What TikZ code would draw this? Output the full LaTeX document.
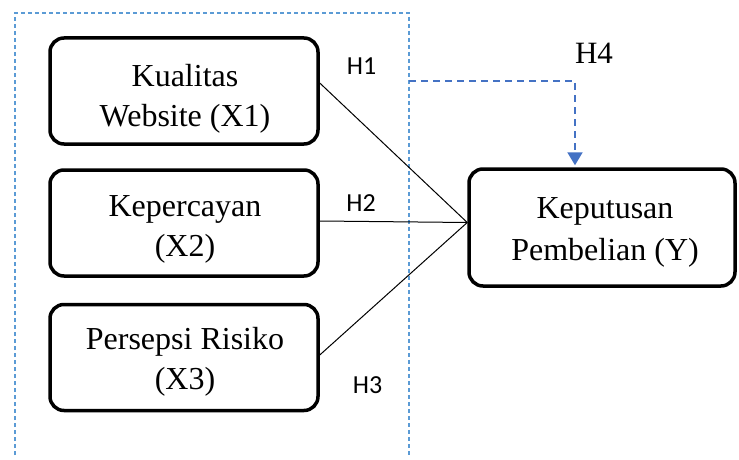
\documentclass[tikz,border=0pt]{standalone}
\usepackage{fontspec}
\setmainfont{Liberation Serif}
\newfontfamily\calibri{Carlito}
\usetikzlibrary{arrows.meta,positioning}

\definecolor{garisbiru}{RGB}{91,155,213}
\definecolor{panahbiru}{RGB}{68,114,196}

\tikzset{
    variabel/.style={draw, line width=3.5pt, rounded corners=14pt,
        minimum width=268pt, minimum height=106pt, inner sep=0pt},
    teks/.style={align=center, inner sep=0pt,
        font=\fontsize{32}{40}\selectfont},
    hipo/.style={inner sep=0pt, font=\calibri\fontsize{26}{30}\selectfont},
    jalur/.style={line width=1pt},
    kelompok/.style={garisbiru, line width=1.2pt, dash pattern=on 4pt off 3pt},
    moderasi/.style={panahbiru, line width=2pt, dash pattern=on 7pt off 5pt,
        -{Triangle[width=15pt,length=13pt]}, shorten >=2pt}
}

\begin{document}
\begin{tikzpicture}[x=1pt, y=-1pt]
    \useasboundingbox (0,0) rectangle (739,460);

    % Kotak putus-putus (X1, X2, X3)
    \draw[kelompok] (15,455) -- (15,13) -- (409,13) -- (409,455);

    % Variabel bebas
    \node[variabel] (x1) at (184,91) {};
    \node[variabel] (x2) at (184,223) {};
    \node[variabel] (x3) at (184,357.5) {};
    \node[teks] (t1) at (185,99.2) {Kualitas\\Website (X1)};
    \node[teks] (t2) at (185,229.4) {Kepercayan\\(X2)};
    \node[teks] (t3) at (185,361.5) {Persepsi Risiko\\(X3)};

    % Variabel terikat
    \node[variabel, minimum width=266pt, minimum height=117pt] (y) at (602,227.5) {};
    \node[teks, font=\fontsize{32}{42}\selectfont] (ty) at (605,232) {Keputusan\\Pembelian (Y)};

    % Jalur hipotesis
    \coordinate (masuk) at ([yshift=5pt]y.west);
    \draw[jalur] ([yshift=8pt]x1.east) -- (masuk);
    \draw[jalur] ([yshift=2pt]x2.east) -- (masuk);
    \draw[jalur] ([yshift=2.5pt]x3.east) -- (masuk);

    \node[hipo] (h1) at (361.5,65.7) {H1};
    \node[hipo] (h2) at (361,203.5) {H2};
    \node[hipo] (h3) at (367.5,385.5) {H3};

    % Moderasi (H4)
    \coordinate (h4awal) at (409,81);
    \coordinate (h4sudut) at (575,81);
    \draw[moderasi] (h4awal) -- (h4sudut) -- (h4sudut |- y.north);
    \node[inner sep=0pt, font=\fontsize{31}{36}\selectfont] (h4) at (594,53.5) {H4};
\end{tikzpicture}
\end{document}
